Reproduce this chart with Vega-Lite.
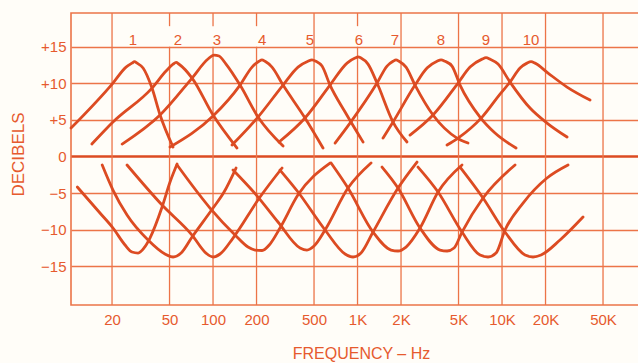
{
  "$schema": "https://vega.github.io/schema/vega-lite/v6.json",
  "width": 568,
  "height": 292,
  "autosize": {"type": "none"},
  "padding": {"left": 71, "top": 13, "right": 0, "bottom": 58},
  "background": "#FFFDF8",
  "config": {"view": {"stroke": "#EC7448", "strokeWidth": 1.6}},
  "datasets": {
    "vgrid": [
      {"f": 20, "db": -20.3, "db2": 19.6},
      {"f": 50, "db": -20.3, "db2": 15}, {"f": 50, "db": 17.8, "db2": 19.6},
      {"f": 100, "db": -20.3, "db2": 15}, {"f": 100, "db": 17.8, "db2": 19.6},
      {"f": 200, "db": -20.3, "db2": 15}, {"f": 200, "db": 17.8, "db2": 19.6},
      {"f": 500, "db": -20.3, "db2": 19.6},
      {"f": 1000, "db": -20.3, "db2": 15}, {"f": 1000, "db": 17.8, "db2": 19.6},
      {"f": 2000, "db": -20.3, "db2": 19.6},
      {"f": 5000, "db": -20.3, "db2": 19.6},
      {"f": 10000, "db": -20.3, "db2": 19.6},
      {"f": 20000, "db": -20.3, "db2": 19.6},
      {"f": 50000, "db": -20.3, "db2": 19.6}
    ],
    "bands": [
      {"label": "1", "f": 27.9, "db": 15.9},
      {"label": "2", "f": 57.2, "db": 15.9},
      {"label": "3", "f": 106.6, "db": 15.9},
      {"label": "4", "f": 218.4, "db": 15.9},
      {"label": "5", "f": 469, "db": 15.9},
      {"label": "6", "f": 1024, "db": 15.9},
      {"label": "7", "f": 1818, "db": 15.9},
      {"label": "8", "f": 3784, "db": 15.9},
      {"label": "9", "f": 7750, "db": 15.9},
      {"label": "10", "f": 15870, "db": 15.9}
    ],
    "curves": [
      {"s":"B1","f":10.4,"db":3.88},{"s":"B1","f":20.3,"db":10.03},{"s":"B1","f":25.0,"db":12.21},{"s":"B1","f":27.5,"db":12.75},{"s":"B1","f":28.6,"db":12.95},{"s":"B1","f":29.8,"db":12.75},{"s":"B1","f":32.8,"db":12.08},{"s":"B1","f":37.8,"db":9.34},{"s":"B1","f":43.0,"db":5.66},{"s":"B1","f":52.9,"db":1.28},
      {"s":"B2","f":14.5,"db":1.69},{"s":"B2","f":20.3,"db":4.7},{"s":"B2","f":37.8,"db":9.34},{"s":"B2","f":47.3,"db":11.67},{"s":"B2","f":52.9,"db":12.6},{"s":"B2","f":55.5,"db":12.85},{"s":"B2","f":58.2,"db":12.6},{"s":"B2","f":71.6,"db":10.71},{"s":"B2","f":100,"db":5.66},{"s":"B2","f":146.6,"db":1.15},
      {"s":"B3","f":23.5,"db":1.69},{"s":"B3","f":43.0,"db":5.66},{"s":"B3","f":71.6,"db":10.71},{"s":"B3","f":92.3,"db":13.31},{"s":"B3","f":101.6,"db":13.85},{"s":"B3","f":110.0,"db":13.72},{"s":"B3","f":123.0,"db":12.62},{"s":"B3","f":153.8,"db":9.75},{"s":"B3","f":204.8,"db":5.38},{"s":"B3","f":305.2,"db":1.42},
      {"s":"B4","f":50.4,"db":1.28},{"s":"B4","f":100,"db":5.52},{"s":"B4","f":153.8,"db":9.75},{"s":"B4","f":186.2,"db":12.21},{"s":"B4","f":208,"db":13.0},{"s":"B4","f":218,"db":13.2},{"s":"B4","f":229,"db":13.0},{"s":"B4","f":256,"db":12.21},{"s":"B4","f":305.2,"db":9.75},{"s":"B4","f":433,"db":5.25},{"s":"B4","f":577,"db":1.15},
      {"s":"B5","f":135.3,"db":1.56},{"s":"B5","f":204.8,"db":5.38},{"s":"B5","f":305.2,"db":9.75},{"s":"B5","f":387.4,"db":12.21},{"s":"B5","f":454,"db":13.0},{"s":"B5","f":484,"db":13.2},{"s":"B5","f":516,"db":13.0},{"s":"B5","f":568,"db":12.35},{"s":"B5","f":645,"db":9.75},{"s":"B5","f":820,"db":6.07},{"s":"B5","f":1092,"db":1.97},
      {"s":"B6","f":286.2,"db":1.97},{"s":"B6","f":433,"db":5.25},{"s":"B6","f":645,"db":9.75},{"s":"B6","f":846,"db":12.76},{"s":"B6","f":961,"db":13.45},{"s":"B6","f":1008,"db":13.6},{"s":"B6","f":1057,"db":13.45},{"s":"B6","f":1182,"db":12.62},{"s":"B6","f":1365,"db":10.03},{"s":"B6","f":1761,"db":4.7},{"s":"B6","f":2200,"db":1.97},
      {"s":"B7","f":699,"db":1.83},{"s":"B7","f":887,"db":4.56},{"s":"B7","f":1365,"db":10.03},{"s":"B7","f":1600,"db":12.35},{"s":"B7","f":1761,"db":13.0},{"s":"B7","f":1847,"db":13.2},{"s":"B7","f":1937,"db":13.0},{"s":"B7","f":2166,"db":12.21},{"s":"B7","f":2500,"db":9.75},{"s":"B7","f":3330,"db":5.66},{"s":"B7","f":4882,"db":2.51},{"s":"B7","f":5818,"db":1.83},
      {"s":"B8","f":1501,"db":2.51},{"s":"B8","f":1761,"db":4.7},{"s":"B8","f":2500,"db":9.75},{"s":"B8","f":3026,"db":12.08},{"s":"B8","f":3550,"db":13.0},{"s":"B8","f":3784,"db":13.2},{"s":"B8","f":4032,"db":13.0},{"s":"B8","f":4508,"db":12.35},{"s":"B8","f":5122,"db":9.75},{"s":"B8","f":7042,"db":5.38},{"s":"B8","f":8944,"db":3.2},{"s":"B8","f":12500,"db":1.15},
      {"s":"B9","f":2308,"db":2.92},{"s":"B9","f":3330,"db":5.66},{"s":"B9","f":4962,"db":10.03},{"s":"B9","f":6006,"db":12.21},{"s":"B9","f":7272,"db":13.3},{"s":"B9","f":7750,"db":13.5},{"s":"B9","f":8260,"db":13.3},{"s":"B9","f":9384,"db":12.62},{"s":"B9","f":11356,"db":10.16},{"s":"B9","f":15620,"db":6.61},{"s":"B9","f":20480,"db":4.56},{"s":"B9","f":28180,"db":2.65},
      {"s":"B10","f":4164,"db":1.56},{"s":"B10","f":4962,"db":2.51},{"s":"B10","f":7272,"db":5.38},{"s":"B10","f":9686,"db":8.52},{"s":"B10","f":11356,"db":10.16},{"s":"B10","f":13322,"db":12.08},{"s":"B10","f":14890,"db":12.75},{"s":"B10","f":15870,"db":12.95},{"s":"B10","f":16920,"db":12.75},{"s":"B10","f":20820,"db":11.39},{"s":"B10","f":28180,"db":9.48},{"s":"B10","f":40640,"db":7.7},
      {"s":"C1","f":11.5,"db":-4.18},{"s":"C1","f":16.5,"db":-7.73},{"s":"C1","f":20.3,"db":-9.78},{"s":"C1","f":24.6,"db":-12.1},{"s":"C1","f":27.5,"db":-13.06},{"s":"C1","f":30.3,"db":-13.2},{"s":"C1","f":33.3,"db":-12.51},{"s":"C1","f":36.6,"db":-11.15},{"s":"C1","f":44.4,"db":-6.91},{"s":"C1","f":50.4,"db":-3.5},{"s":"C1","f":56.4,"db":-1.04},
      {"s":"C2","f":17.1,"db":-1.17},{"s":"C2","f":20.3,"db":-4.59},{"s":"C2","f":25.4,"db":-8.01},{"s":"C2","f":35.5,"db":-11.42},{"s":"C2","f":46.5,"db":-13.33},{"s":"C2","f":52.9,"db":-13.74},{"s":"C2","f":60.1,"db":-13.2},{"s":"C2","f":71.6,"db":-11.01},{"s":"C2","f":100,"db":-7.05},{"s":"C2","f":119.2,"db":-4.86},{"s":"C2","f":144.3,"db":-1.58},
      {"s":"C3","f":25.4,"db":-1.17},{"s":"C3","f":44.4,"db":-6.64},{"s":"C3","f":71.6,"db":-10.74},{"s":"C3","f":89.4,"db":-13.2},{"s":"C3","f":100,"db":-13.74},{"s":"C3","f":111.8,"db":-13.33},{"s":"C3","f":137.5,"db":-11.15},{"s":"C3","f":211.4,"db":-5.55},{"s":"C3","f":300.4,"db":-1.58},
      {"s":"C4","f":56.4,"db":-1.17},{"s":"C4","f":95.3,"db":-7.05},{"s":"C4","f":142,"db":-10.74},{"s":"C4","f":174.6,"db":-12.38},{"s":"C4","f":195.3,"db":-12.79},{"s":"C4","f":218.4,"db":-12.85},{"s":"C4","f":248,"db":-11.97},{"s":"C4","f":290.8,"db":-9.78},{"s":"C4","f":387.4,"db":-5.25},{"s":"C4","f":645,"db":-0.9},
      {"s":"C5","f":137.5,"db":-1.86},{"s":"C5","f":204.8,"db":-5.55},{"s":"C5","f":281.6,"db":-8.96},{"s":"C5","f":400,"db":-12.51},{"s":"C5","f":447,"db":-12.79},{"s":"C5","f":500,"db":-12.24},{"s":"C5","f":596,"db":-10.05},{"s":"C5","f":859,"db":-4.32},{"s":"C5","f":1240,"db":-0.9},
      {"s":"C6","f":290.8,"db":-1.86},{"s":"C6","f":387.4,"db":-4.86},{"s":"C6","f":596,"db":-10.05},{"s":"C6","f":820,"db":-13.33},{"s":"C6","f":931,"db":-13.74},{"s":"C6","f":1057,"db":-13.2},{"s":"C6","f":1280,"db":-10.33},{"s":"C6","f":1907,"db":-4.32},{"s":"C6","f":2580,"db":-0.77},
      {"s":"C7","f":656,"db":-0.9},{"s":"C7","f":859,"db":-4.32},{"s":"C7","f":1280,"db":-10.33},{"s":"C7","f":1705,"db":-12.79},{"s":"C7","f":1907,"db":-12.92},{"s":"C7","f":2166,"db":-12.38},{"s":"C7","f":2707,"db":-9.78},{"s":"C7","f":3608,"db":-4.86},{"s":"C7","f":5286,"db":-1.17},
      {"s":"C8","f":1478,"db":-1.45},{"s":"C8","f":1907,"db":-4.32},{"s":"C8","f":2707,"db":-9.78},{"s":"C8","f":3724,"db":-12.79},{"s":"C8","f":4164,"db":-12.92},{"s":"C8","f":4654,"db":-12.51},{"s":"C8","f":5286,"db":-10.33},{"s":"C8","f":7390,"db":-5.68},{"s":"C8","f":12302,"db":-1.17},
      {"s":"C9","f":2622,"db":-1.45},{"s":"C9","f":3608,"db":-4.86},{"s":"C9","f":5286,"db":-10.33},{"s":"C9","f":7042,"db":-13.47},{"s":"C9","f":8000,"db":-13.74},{"s":"C9","f":9088,"db":-13.2},{"s":"C9","f":10490,"db":-10.05},{"s":"C9","f":13980,"db":-6.37},{"s":"C9","f":20480,"db":-2.95},{"s":"C9","f":28620,"db":-1.17},
      {"s":"C10","f":5122,"db":-1.45},{"s":"C10","f":7390,"db":-5.68},{"s":"C10","f":10490,"db":-10.33},{"s":"C10","f":14430,"db":-13.47},{"s":"C10","f":16386,"db":-13.74},{"s":"C10","f":18620,"db":-13.47},{"s":"C10","f":25200,"db":-11.42},{"s":"C10","f":36360,"db":-8.28}
    ]
  },
  "layer": [
    {
      "data": {"name": "vgrid"},
      "mark": {"type": "rule", "color": "#EC7448", "strokeWidth": 1.3},
      "encoding": {
        "x": {"field": "f", "type": "quantitative", "scale": {"type": "log", "domain": [10.4, 88700], "nice": false},
          "axis": {"values": [20, 50, 100, 200, 500, 1000, 2000, 5000, 10000, 20000, 50000], "labelExpr": "datum.value >= 1000 ? (datum.value / 1000) + 'K' : '' + datum.value", "ticks": false, "domain": false, "grid": false, "labelFont": "Liberation Sans", "labelFontSize": 15, "labelColor": "#E65A2E", "labelPadding": 7, "labelFlush": false, "labelOverlap": false, "title": "FREQUENCY – Hz", "titleFont": "Liberation Sans", "titleFontSize": 16, "titleFontWeight": "normal", "titleColor": "#E65A2E", "titleX": 290, "titleY": 48, "titleAlign": "center", "titleBaseline": "middle"}},
        "y": {"field": "db", "type": "quantitative", "scale": {"domain": [-20.3, 19.6], "nice": false, "zero": false},
          "axis": {"values": [-15, -10, -5, 0, 5, 10, 15], "labelExpr": "datum.value > 0 ? '+' + datum.value : (datum.value < 0 ? '−' + (-datum.value) : '0')", "ticks": false, "domain": false, "grid": true, "gridColor": {"condition": {"test": "datum.value === 0", "value": "#DC4B22"}, "value": "#EC7448"}, "gridWidth": {"condition": {"test": "datum.value === 0", "value": 2.6}, "value": 1.3}, "labelFont": "Liberation Sans", "labelFontSize": 15, "labelColor": "#E65A2E", "labelPadding": 5, "title": "DECIBELS", "titleFont": "Liberation Sans", "titleFontSize": 17, "titleFontWeight": "normal", "titleColor": "#E65A2E", "titleX": -53, "titleY": 141, "titleAlign": "center", "titleBaseline": "middle"}},
        "y2": {"field": "db2"}
      }
    },
    {
      "data": {"name": "curves"},
      "mark": {"type": "line", "interpolate": "monotone", "strokeWidth": 2.8, "color": "#DC4B22", "strokeCap": "round"},
      "encoding": {
        "x": {"field": "f", "type": "quantitative", "scale": {"type": "log", "domain": [10.4, 88700], "nice": false}},
        "y": {"field": "db", "type": "quantitative", "scale": {"domain": [-20.3, 19.6], "nice": false, "zero": false}},
        "detail": {"field": "s", "type": "nominal"}
      }
    },
    {
      "data": {"name": "bands"},
      "mark": {"type": "text", "font": "Liberation Sans", "fontSize": 15, "color": "#E65A2E", "align": "center", "baseline": "middle"},
      "encoding": {
        "x": {"field": "f", "type": "quantitative", "scale": {"type": "log", "domain": [10.4, 88700], "nice": false}},
        "y": {"field": "db", "type": "quantitative", "scale": {"domain": [-20.3, 19.6], "nice": false, "zero": false}},
        "text": {"field": "label", "type": "nominal"}
      }
    }
  ]
}
